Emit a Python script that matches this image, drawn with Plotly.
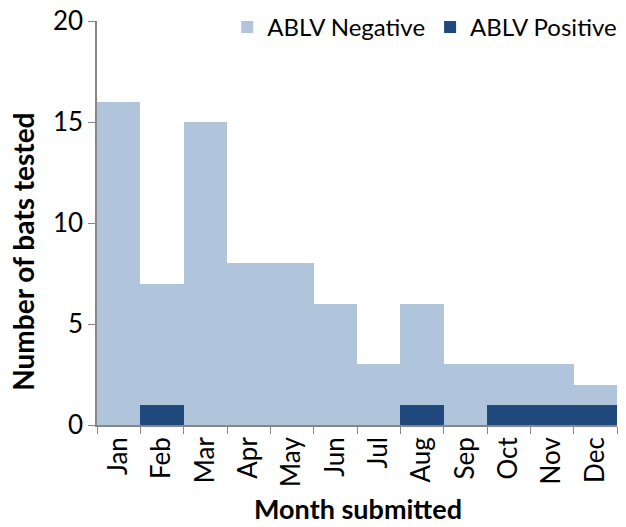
import plotly.graph_objects as go

months = ["Jan", "Feb", "Mar", "Apr", "May", "Jun", "Jul", "Aug", "Sep", "Oct", "Nov", "Dec"]
positive = [0, 1, 0, 0, 0, 0, 0, 1, 0, 1, 1, 1]
negative = [16, 6, 15, 8, 8, 6, 3, 5, 3, 2, 2, 1]

FONT = "Lato, 'Open Sans', sans-serif"

fig = go.Figure()
fig.add_trace(go.Bar(x=months, y=positive, name="ABLV Positive",
                     marker=dict(color="#1f497d", line=dict(width=0))))
fig.add_trace(go.Bar(x=months, y=negative, name="ABLV Negative",
                     marker=dict(color="#b0c4dc", line=dict(width=0))))

fig.update_layout(
    barmode="stack",
    bargap=0,
    width=626,
    height=527,
    margin=dict(l=97, r=4, t=21, b=102),
    paper_bgcolor="white",
    plot_bgcolor="white",
    font=dict(family=FONT, size=26, color="#000000"),
    legend=dict(orientation="h", traceorder="reversed", x=1.01, xanchor="right",
                y=1.04, yanchor="top", font=dict(size=24), bgcolor="rgba(0,0,0,0)",
                itemwidth=30),
    showlegend=True,
)
fig.update_xaxes(
    type="category", tickson="boundaries", ticks="outside", ticklen=7,
    tickcolor="#868686", showline=True, linecolor="#868686", linewidth=1.5,
    tickangle=-90, showgrid=False, automargin=False,
)
fig.update_yaxes(
    range=[0, 20], tickvals=[0, 5, 10, 15, 20], ticks="outside", ticklen=7,
    tickcolor="#868686", showline=True, linecolor="#868686", linewidth=1.5,
    showgrid=False, zeroline=False, automargin=False,
)

# axis titles as annotations so they sit where the original has them
fig.add_annotation(text="<b>Month submitted</b>", xref="paper", yref="paper",
                   x=0.501, y=-0.2515, showarrow=False, font=dict(size=27),
                   xanchor="center", yanchor="bottom")
fig.add_annotation(text="<b>Number of bats tested</b>", xref="paper", yref="paper",
                   x=-0.143, y=0.428, showarrow=False, font=dict(size=28),
                   textangle=-90, xanchor="center", yanchor="middle")

fig.write_html("out.html", config={"displayModeBar": False},
               post_script="document.body.style.margin='0';")
